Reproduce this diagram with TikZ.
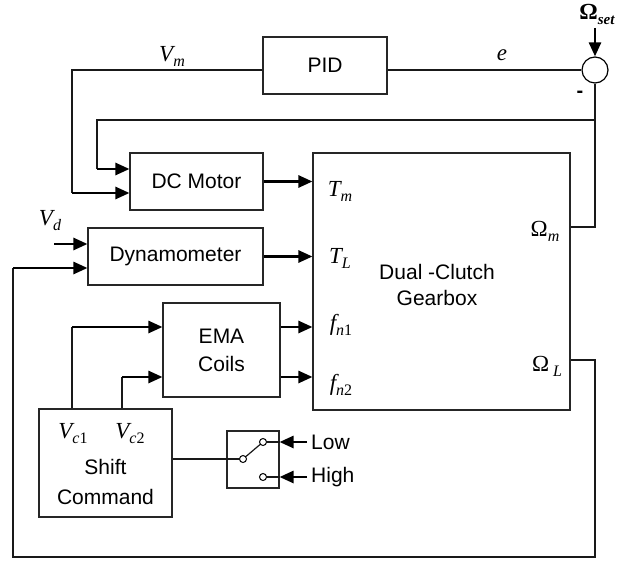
\documentclass[tikz,border=0pt]{standalone}
\usepackage{fontspec}
\setmainfont{Liberation Sans}
\newfontfamily\tms{Liberation Serif}
\usetikzlibrary{arrows.meta, positioning}

% signal : lettre italique + indice
\newcommand{\sig}[2]{{\tms\itshape #1}{\tms\fontsize{16}{16}\selectfont\raisebox{-5pt}{#2}}}

\begin{document}
\begin{tikzpicture}[x=1pt, y=-1pt,
		% Style des blocs
		block/.style 2 args={
			draw=black!85,
			line width=1.1pt,
			minimum width=#1,
			minimum height=#2,
			inner sep=0pt,
			align=center,
			font=\fontsize{21}{28}\selectfont
		},
		% Style des fils simples
		wire/.style={
			line width=1.2pt,
			black!90
		},
		% Style des flèches épaisses
		flow/.style={
			-{Triangle[length=14pt,width=12pt]},
			line width=2.6pt
		},
		% Style des étiquettes de signaux
		siglabel/.style={
			font=\fontsize{23}{23}\selectfont,
			inner sep=0pt
		},
		% Style des textes à droite du commutateur
		seltext/.style={
			font=\fontsize{21}{21}\selectfont,
			inner sep=0pt,
			anchor=west
		},
		% Petits contacts du commutateur
		contact/.style={
			draw, circle, fill=white,
			line width=1pt,
			minimum size=7pt,
			inner sep=0pt
		}
		]
		\useasboundingbox (0,0) rectangle (620,561);
		
		% --- DÉFINITION DES BLOCS ---
		\node[block={124pt}{57pt}] (pid) at (325,65.5) {PID};
		\node[draw, circle, line width=1.2pt, minimum size=26pt, inner sep=0pt] (sum) at (595,70) {};
		\node[block={133pt}{57pt}] (dc) at (196.5,181.5) {DC Motor};
		\node[block={175pt}{57pt}] (dyn) at (175.5,256.5) {Dynamometer};
		\node[block={117pt}{94pt}] (ema) at (221.5,350) {EMA\\Coils};
		\node[block={257pt}{257pt}] (gb) at (441.5,281.5) {};
		\node[align=center, font=\fontsize{21}{26}\selectfont] (gbtext) at (437,285) {Dual -Clutch\\Gearbox};
		\node[block={133pt}{108pt}] (shift) at (105.5,463) {};
		\node[align=center, font=\fontsize{21}{30}\selectfont] (shifttext) at (105.5,482) {Shift\\Command};
		\node[block={52pt}{57pt}] (sw) at (253,459.5) {};
		
		% --- COMMUTATEUR ---
		\node[contact] (pv) at (243,459) {};
		\node[contact] (cl) at (263,442) {};
		\node[contact] (ch) at (263,477) {};
		\draw[wire] (pv) -- (cl);
		\draw[wire] (cl.east) -- (cl -| sw.east);
		\draw[wire] (ch.east) -- (ch -| sw.east);
		
		% --- COORDONNÉES D'ALIGNEMENT ---
		\coordinate (xvm) at (72,0);
		\coordinate (xfb) at (97,0);
		\coordinate (xvc) at (122,0);
		\coordinate (xl) at (13,0);
		\coordinate (xr) at (595,0);
		\coordinate (xvd) at (54,0);
		\coordinate (xsel) at (307,0);
		\coordinate (yfb) at (0,120);
		\coordinate (yom) at (0,227);
		\coordinate (yol) at (0,360);
		\coordinate (ybot) at (0,557);
		\coordinate (yset) at (0,28);
		\coordinate (dcin1) at ([yshift=12.5pt]dc.west);
		\coordinate (dcin2) at ([yshift=-11.5pt]dc.west);
		\coordinate (dynin1) at ([yshift=12.5pt]dyn.west);
		\coordinate (dynin2) at ([yshift=-11.5pt]dyn.west);
		\coordinate (emain1) at ([yshift=23pt]ema.west);
		\coordinate (emain2) at ([yshift=-27pt]ema.west);
		
		% --- ÉTIQUETTES ---
		\node[siglabel] (vm) at (172,56) {\sig{V}{\textit{m}}};
		\node[siglabel] (err) at (502,55) {{\tms\itshape e}};
		\node[siglabel] (oset) at (597,14) {{\tms\bfseries Ω}{\tms\bfseries\itshape\fontsize{15}{15}\selectfont\raisebox{-5pt}{set}}};
		\node[siglabel, font=\fontsize{20}{20}\selectfont\bfseries] (minus) at (580,94) {-};
		\node[siglabel] (vd) at (50,221) {\sig{V}{\textit{d}}};
		\node[siglabel] (tm) at (340,191) {\sig{T}{\textit{m}}};
		\node[siglabel] (tl) at (340,258) {\sig{T}{\textit{L}}};
		\node[siglabel] (fn1) at (341,325) {\sig{f}{\textit{n}1}};
		\node[siglabel] (fn2) at (341,385) {\sig{f}{\textit{n}2}};
		\node[siglabel] (om) at (545,231) {{\tms Ω}{\tms\itshape\fontsize{16}{16}\selectfont\raisebox{-5pt}{m}}};
		\node[siglabel] (ol) at (547,366) {{\tms Ω\,}{\tms\itshape\fontsize{16}{16}\selectfont\raisebox{-5pt}{L}}};
		\node[siglabel] (vc1) at (73,434) {\sig{V}{\textit{c}1}};
		\node[siglabel] (vc2) at (130,434) {\sig{V}{\textit{c}2}};
		\node[seltext] (low) at (311,442) {Low};
		\node[seltext] (high) at (311,477) {High};
		
		% --- BOUCLE DE VITESSE ---
		\draw[wire] (sum.west) -- (sum.west -| pid.east);
		\draw[wire] (pid.west |- sum) -| (xvm |- dcin2);
		\draw[flow] (xvm |- dcin2) -- (dcin2);
		\draw[flow] (xr |- yset) -- (sum.north);
		\draw[wire] (gb.east |- yom) -| (sum.south);
		\draw[wire] (xr |- yfb) -| (xfb |- dcin1);
		\draw[flow] (xfb |- dcin1) -- (dcin1);
		
		% --- ENTRÉES DE LA BOÎTE ---
		\draw[flow] (dc.east) -- (dc.east -| gb.west);
		\draw[flow] (dyn.east) -- (dyn.east -| gb.west);
		\draw[flow] (ema.east |- emain1) -- (gb.west |- emain1);
		\draw[flow] (ema.east |- emain2) -- (gb.west |- emain2);
		
		% --- DYNAMOMÈTRE ---
		\draw[flow] (xvd |- dynin1) -- (dynin1);
		\draw[wire] (gb.east |- yol) -| (xr |- ybot) -| (xl |- dynin2);
		\draw[flow] (xl |- dynin2) -- (dynin2);
		
		% --- COMMANDE DE PASSAGE ---
		\draw[wire] (shift.north -| xvm) -- (xvm |- emain1);
		\draw[flow] (xvm |- emain1) -- (emain1);
		\draw[wire] (shift.north -| xvc) -- (xvc |- emain2);
		\draw[flow] (xvc |- emain2) -- (emain2);
		\draw[wire] (shift.east |- pv) -- (pv.west);
		\draw[flow] (xsel |- cl) -- (cl -| sw.east);
		\draw[flow] (xsel |- ch) -- (ch -| sw.east);
		
	\end{tikzpicture}
\end{document}
